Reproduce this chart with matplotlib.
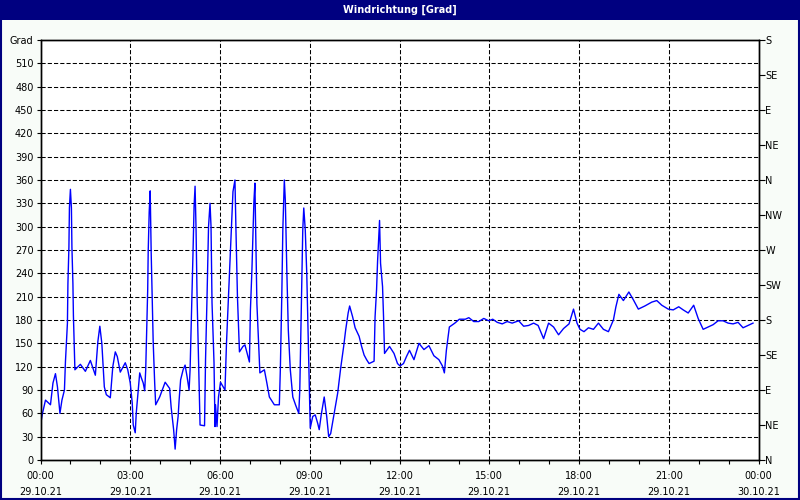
import matplotlib
matplotlib.use('Agg')
import matplotlib.pyplot as plt
from matplotlib.patches import Rectangle

# minutes since 29.10.21 00:00 and wind direction in degrees
minutes = [0, 4, 10, 20, 25, 30, 34, 39, 43, 48, 50, 54, 55, 57, 58, 60, 62, 63, 65, 66,
           69, 80, 90, 100, 110, 115, 119, 123, 128, 132, 140, 145, 150, 154, 160, 170, 175,
           180, 184, 186, 190, 192, 196, 199, 202, 206, 209, 211, 213, 215, 216, 218, 220,
           222, 226, 229, 231, 239, 250, 259, 262, 267, 270, 273, 276, 278, 281, 286, 290,
           294, 298, 300, 302, 304, 306, 308, 310, 312, 314, 317, 320, 329, 331, 334, 337,
           340, 342, 344, 348, 350, 351, 354, 357, 361, 370, 373, 377, 382, 386, 390, 392,
           395, 399, 406, 410, 416, 419, 421, 424, 426, 428, 430, 432, 434, 438, 440, 449,
           454, 459, 469, 479, 481, 484, 486, 489, 491, 494, 497, 501, 506, 512, 518, 520,
           523, 526, 528, 531, 534, 538, 540, 541, 546, 551, 556, 559, 563, 569, 574, 578,
           582, 589, 596, 602, 608, 612, 617, 620, 626, 631, 639, 644, 649, 654, 659, 669,
           671, 674, 676, 680, 682, 686, 688, 690, 700, 709, 716, 721, 728, 734, 740, 749,
           759, 769, 779, 789, 799, 806, 810, 814, 820, 831, 840, 852, 859, 869, 879, 889,
           899, 907, 916, 926, 936, 946, 959, 969, 979, 989, 998, 1009, 1019, 1029, 1039,
           1049, 1060, 1069, 1076, 1082, 1090, 1099, 1109, 1119, 1129, 1139, 1149, 1154,
           1160, 1169, 1180, 1189, 1199, 1212, 1226, 1236, 1246, 1259, 1269, 1280, 1289,
           1299, 1310, 1319, 1329, 1339, 1349, 1359, 1369, 1379, 1389, 1399, 1409, 1419, 1429]
direction = [45, 60, 77, 71, 99, 111, 94, 60, 77, 90, 126, 176, 227, 274, 324, 348, 324, 274, 227, 186,
             116, 123, 114, 128, 109, 152, 172, 150, 94, 84, 80, 120, 139, 133, 113, 125, 116,
             99, 73, 45, 35, 60, 90, 112, 106, 99, 89, 116, 167, 219, 268, 319, 346,
             266, 152, 99, 71, 81, 100, 92, 68, 39, 14, 39, 56, 77, 103, 116, 122,
             107, 90, 116, 167, 219, 270, 326, 352, 296, 210, 129, 45, 44, 129, 210, 300,
             330, 300, 202, 125, 43, 71, 43, 81, 100, 90, 150, 210, 287, 345, 360, 296,
             210, 139, 146, 148, 133, 126, 193, 244, 287, 332, 356, 274, 201, 141, 112, 116,
             99, 81, 71, 71, 116, 214, 296, 360, 334, 244, 167, 116, 81, 70, 60, 90,
             193, 296, 324, 296, 240, 125, 64, 41, 56, 58, 47, 39, 58, 81, 56, 30,
             34, 60, 86, 118, 146, 167, 189, 198, 184, 170, 159, 146, 135, 129, 124, 127,
             184, 219, 255, 308, 253, 223, 184, 137, 146, 137, 124, 121, 124, 133, 141, 129,
             150, 142, 147, 134, 129, 121, 112, 141, 171, 176, 181, 181, 183, 178, 178, 182,
             179, 181, 177, 175, 178, 176, 179, 172, 173, 176, 173, 156, 176, 171, 161,
             169, 175, 194, 176, 168, 165, 170, 168, 176, 168, 165, 180, 197,
             213, 205, 216, 206, 194, 198, 203, 205, 199, 194, 193, 197, 193,
             189, 199, 182, 168, 171, 174, 179, 179, 176, 175, 177, 170, 173, 176]

hour_ticks = list(range(0, 1441, 180))
hour_labels = ['00:00\n29.10.21', '03:00\n29.10.21', '06:00\n29.10.21', '09:00\n29.10.21',
               '12:00\n29.10.21', '15:00\n29.10.21', '18:00\n29.10.21', '21:00\n29.10.21',
               '00:00\n30.10.21']
grad_ticks = list(range(0, 541, 30))
grad_labels = [str(v) for v in grad_ticks[:-1]] + ['Grad']
compass_ticks = list(range(0, 541, 45))
compass_labels = ['N', 'NE', 'E', 'SE', 'S', 'SW', 'W', 'NW', 'N', 'NE', 'E', 'SE', 'S']

navy = '#000080'
fs = 7

fig = plt.figure(figsize=(8, 5), dpi=100, facecolor='#f8fcf8')
ax = fig.add_axes([40.5 / 800, 40 / 500, 718 / 800, 420 / 500])
ax.set_facecolor('white')

# title bar and frame
fig.patches.append(Rectangle((0, 1 - 20 / 500), 1, 20 / 500, transform=fig.transFigure,
                             facecolor=navy, edgecolor='none', zorder=0))
fig.patches.append(Rectangle((0.001, 0.002), 0.998, 0.996, transform=fig.transFigure,
                             facecolor='none', edgecolor=navy, lw=1.5, zorder=5))
fig.text(0.5, 1 - 10 / 500, 'Windrichtung [Grad]', color='white', fontsize=7,
         fontweight='bold', ha='center', va='center')

ax.plot(minutes, direction, color='#0000ff', lw=1)

ax.set_xlim(0, 1440)
ax.set_ylim(0, 540)

for v in range(30, 540, 30):
    ax.axhline(v, color='black', lw=0.75, ls=(0, (4, 2)), zorder=1)
for m in range(180, 1440, 180):
    ax.axvline(m, color='black', lw=0.75, ls=(0, (4, 2)), zorder=1)

ax.set_xticks(hour_ticks)
ax.set_xticklabels(hour_labels, fontsize=fs, linespacing=1.75)
ax.set_xticks(range(0, 1441, 60), minor=True)
ax.tick_params(axis='x', which='both', length=3, width=0.8, pad=5)

ax.set_yticks(grad_ticks)
ax.set_yticklabels(grad_labels, fontsize=fs)
ax.tick_params(axis='y', length=3, width=0.8, pad=2)

ax2 = ax.twinx()
ax2.set_ylim(0, 540)
ax2.set_yticks(compass_ticks)
ax2.set_yticklabels(compass_labels, fontsize=fs)
ax2.tick_params(axis='y', length=4, width=0.8, pad=1)

for a in (ax, ax2):
    for s in a.spines.values():
        s.set_linewidth(1)
        s.set_color('black')

fig.savefig('out.png', dpi=100, facecolor=fig.get_facecolor())
